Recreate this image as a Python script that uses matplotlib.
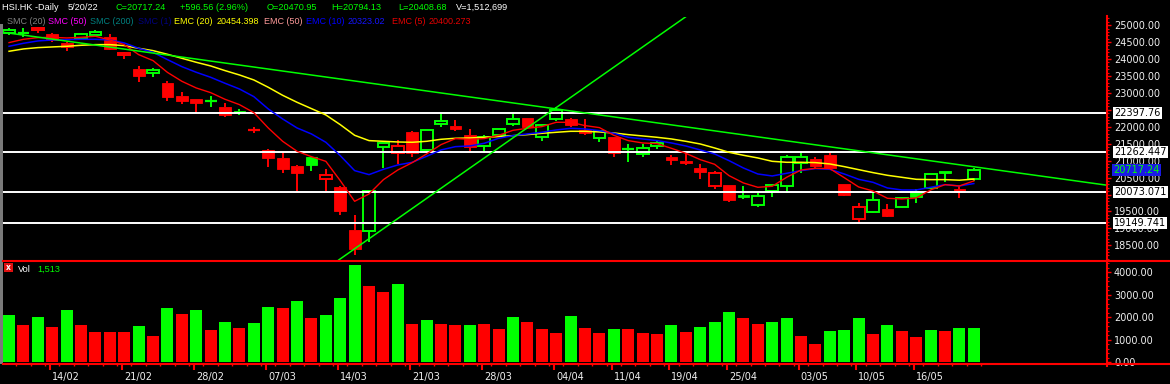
import numpy as np
import matplotlib
matplotlib.use('Agg')
import matplotlib.pyplot as plt
import matplotlib.transforms as mtransforms
from matplotlib.ticker import MultipleLocator, FuncFormatter, FormatStrFormatter
from matplotlib.lines import Line2D
from matplotlib.patches import Rectangle

# HSI daily, 09/02/22 .. 20/05/22 (68 sessions)
opens = [24770, 24785, 24859, 24740, 24475, 24612, 24721, 24642, 24111, 23707,
         23599, 23293, 22910, 22811, 22745, 22575, 22467, 21910, 21315, 21079,
         20843, 21099, 20449, 20222, 18953, 18933, 21413, 21236, 21847, 21325,
         22093, 22024, 21758, 21423, 21768, 22093, 22260, 21689, 22221, 22231,
         21906, 21660, 21689, 21320, 21187, 21443, 21108, 20990, 20784, 20262,
         20272, 19986, 19701, 20114, 20262, 20922, 21049, 21167, 20311, 19287,
         19494, 19563, 19622, 20114, 20183, 20695, 20164, 20470.95]
highs = [24918, 24918, 24937, 24760, 24494, 24760, 24859, 24740, 24199, 23795,
         23736, 23362, 23018, 22831, 22910, 22693, 22516, 21984, 21335, 21246,
         20882, 21118, 20754, 20242, 19396, 20094, 21532, 21610, 21866, 21915,
         22378, 22201, 21935, 21768, 21935, 22378, 22260, 22044, 22575, 22250,
         22221, 21886, 21709, 21492, 21492, 21591, 21177, 21217, 20902, 20705,
         20291, 20252, 20035, 20291, 21167, 21266, 21118, 21266, 20311, 19740,
         20035, 19711, 19888, 20164, 20596, 20705, 20242, 20794.13]
lows = [24721, 24662, 24760, 24494, 24229, 24583, 24642, 24268, 23992, 23333,
        23481, 22772, 22673, 22417, 22595, 22299, 22358, 21827, 20823, 20626,
        20094, 20705, 20094, 19396, 18224, 18589, 20784, 20902, 21099, 21295,
        21984, 21866, 21295, 21217, 21748, 22034, 21965, 21571, 22162, 22004,
        21768, 21561, 21118, 20970, 21118, 21354, 20882, 20882, 20459, 20163,
        19789, 19858, 19642, 19937, 20035, 20646, 20784, 20764, 19957, 19160,
        19455, 19337, 19602, 19760, 20164, 20380, 19908, 20408.68]
closes = [24868, 24780, 24918, 24573, 24347, 24740, 24790, 24307, 24179, 23510,
          23677, 22890, 22772, 22713, 22755, 22339, 22398, 21905, 21069, 20754,
          20626, 20882, 20567, 19524, 18392, 20094, 21512, 21423, 21217, 21896,
          22171, 21945, 21413, 21689, 21935, 22221, 21984, 22044, 22506, 22063,
          21807, 21866, 21217, 21330, 21364, 21512, 21030, 20941, 20675, 20626,
          19848, 19937, 19947, 20272, 21099, 21099, 20853, 20784, 19996, 19622,
          19829, 19376, 19888, 19937, 20596, 20636, 20104, 20717.24]
candle_col = ("ggrrrggrrr" "grrrgrgrrr" "rgrrrggrrg" "grrgggrggr"
              "rgrgggrrrr" "rgggggrrrr" "grggggrg")

volumes = [2100, 1660, 2010, 1580, 2320, 1660, 1350, 1350, 1350, 1610,
           1170, 2410, 2150, 2320, 1430, 1790, 1520, 1750, 2460, 2410,
           2720, 1970, 2100, 2860, 4320, 3390, 3120, 3480, 1700, 1880,
           1700, 1660, 1660, 1700, 1480, 2010, 1790, 1480, 1300, 2060,
           1520, 1300, 1480, 1480, 1300, 1260, 1660, 1350, 1570, 1790,
           2240, 1970, 1700, 1790, 1970, 1170, 810, 1390, 1430, 1970,
           1260, 1660, 1390, 1120, 1430, 1390, 1520, 1513]
vol_col = ("grgrgrrrrg" "rgrgrgrggr" "grgggrrgrg" "rrgrrgrrrg"
           "rrgrrrgrgg" "grrggrrggg" "rgrrgrgg")

ema5 = [24485, 24583, 24632, 24642, 24622, 24642, 24672, 24563, 24425, 24130,
        23953, 23606, 23343, 23146, 23008, 22811, 22654, 22418, 21965, 21571,
        21276, 21118, 20980, 20410, 19799, 20016, 20439, 20725, 20941, 21197,
        21473, 21650, 21630, 21650, 21748, 21896, 21955, 22004, 22132, 22132,
        22034, 21975, 21748, 21591, 21522, 21502, 21364, 21217, 21030, 20892,
        20557, 20341, 20213, 20242, 20508, 20724, 20774, 20764, 20498, 20223,
        20104, 19888, 19868, 19898, 20134, 20291, 20252, 20400.273]
ema10 = [24376, 24465, 24534, 24563, 24573, 24583, 24583, 24563, 24475, 24317,
         24199, 23983, 23776, 23609, 23461, 23284, 23116, 22890, 22526, 22231,
         21965, 21788, 21542, 21148, 20705, 20587, 20744, 20872, 20951, 21128,
         21315, 21413, 21433, 21512, 21660, 21738, 21788, 21837, 21906, 21955,
         21935, 21886, 21807, 21689, 21640, 21591, 21522, 21433, 21315, 21197,
         21000, 20783, 20606, 20547, 20626, 20705, 20764, 20744, 20606, 20449,
         20360, 20193, 20134, 20134, 20213, 20291, 20252, 20323.02]
ema20 = [24229, 24298, 24337, 24357, 24376, 24406, 24425, 24425, 24396, 24317,
         24248, 24140, 24022, 23904, 23796, 23658, 23530, 23382, 23166, 22929,
         22723, 22536, 22349, 22063, 21748, 21591, 21571, 21551, 21542, 21571,
         21630, 21660, 21669, 21689, 21709, 21738, 21768, 21807, 21837, 21866,
         21866, 21847, 21817, 21768, 21729, 21689, 21640, 21571, 21492, 21374,
         21246, 21158, 21079, 20980, 20951, 20951, 20941, 20902, 20823, 20734,
         20646, 20567, 20508, 20449, 20439, 20439, 20423, 20454.398]

# drawn trend lines (two points each: bar index, price)
trend_down = [(0, 24765), (76, 20289)]
trend_up = [(22.99, 18095), (46.875, 25212)]
levels = [22397.76, 21262.447, 20073.071, 19149.741]
level_txt = ['22397.76', '21262.447', '20073.071', '19149.741']
hidden_ticks = [22500, 20000]  # fully covered by level tags

week_idx = [3, 8, 13, 18, 23, 28, 33, 38, 42, 46, 50, 55, 59, 63]
week_lbl = ['14/02', '21/02', '28/02', '07/03', '14/03', '21/03', '28/03',
            '04/04', '11/04', '19/04', '25/04', '03/05', '10/05', '16/05']

GREEN = '#00ff00'
RED = '#ff0000'
TXT = '#f0f0f0'
HFONT = ['Liberation Sans', 'DejaVu Sans']
W, H = 1170, 384


def fx(x):  # pixel -> figure fraction
    return x / W


def fy(y):
    return 1 - y / H


fig = plt.figure(figsize=(W / 100, H / 100), dpi=100, facecolor='black')
ax = fig.add_axes([fx(3), fy(260), (1107 - 3) / W, (260 - 17) / H])
axv = fig.add_axes([fx(3), fy(364), (1107 - 3) / W, (364 - 261) / H])
for a in (ax, axv):
    a.set_facecolor('black')
    for s in a.spines.values():
        s.set_visible(False)
    a.set_xlim(-0.42, 76.25)
ax.set_ylim(18066, 25241)
axv.set_ylim(-76, 4502)

idx = np.arange(len(closes))
o = np.array(opens, float)
c = np.array(closes, float)
hi = np.array(highs, float)
lo = np.array(lows, float)
cols = np.array([GREEN if k == 'g' else RED for k in candle_col])
body_lo = np.minimum(o, c)
body_hi = np.maximum(o, c)
body_h = body_hi - body_lo

# candles
w = 0.82
ax.vlines(idx, lo, body_lo, colors=cols, lw=1.4, zorder=2)
ax.vlines(idx, body_hi, hi, colors=cols, lw=1.4, zorder=2)
doji = body_h < 25
hollow = (c > o) & ~doji
filled = (c <= o) & ~doji
ax.bar(idx[hollow], body_h[hollow], bottom=body_lo[hollow], width=w,
       facecolor='black', edgecolor=cols[hollow], linewidth=1.4, zorder=2)
ax.bar(idx[filled], body_h[filled], bottom=body_lo[filled], width=w,
       color=cols[filled], edgecolor=cols[filled], linewidth=0.6, zorder=2)
ax.hlines(c[doji], idx[doji] - w / 2, idx[doji] + w / 2, colors=cols[doji], lw=1.6, zorder=2)

# levels, averages, trend lines
for lv in levels:
    ax.axhline(lv, color='white', lw=1.4, zorder=3)
ax.plot(idx, ema20, color='#ffff00', lw=1.1, zorder=4)
ax.plot(idx, ema10, color='#0000ff', lw=1.1, zorder=4)
ax.plot(idx, ema5, color=RED, lw=1.0, zorder=4)
ax.axline(trend_down[0], trend_down[1], color=GREEN, lw=1.1, zorder=4)
ax.axline(trend_up[0], trend_up[1], color=GREEN, lw=1.1, zorder=4)

# volume
vcols = [GREEN if k == 'g' else RED for k in vol_col]
axv.bar(idx, volumes, width=0.83, color=vcols)

# right axes
ax.yaxis.tick_right()
ax.set_yticks(np.arange(18500, 25001, 500))
ax.yaxis.set_major_formatter(FuncFormatter(
    lambda v, pos: '' if round(v) in hidden_ticks else f'{v:.2f}'))
ax.yaxis.set_minor_locator(MultipleLocator(100))
ax.tick_params(axis='y', which='major', color=RED, labelcolor=TXT, length=3,
               width=1, labelsize=7, pad=2)
ax.tick_params(axis='y', which='minor', color=RED, length=1.6, width=0.8)
ax.tick_params(axis='x', which='both', bottom=False, labelbottom=False)

axv.yaxis.tick_right()
axv.set_yticks(np.arange(0, 4001, 1000))
axv.yaxis.set_major_formatter(FormatStrFormatter('%.2f'))
axv.yaxis.set_minor_locator(MultipleLocator(200))
axv.tick_params(axis='y', which='major', color=RED, labelcolor=TXT, length=3,
                width=1, labelsize=7, pad=2)
axv.tick_params(axis='y', which='minor', color=RED, length=1.6, width=0.8)

axv.set_xticks(np.array(week_idx) - 0.15)
axv.set_xticklabels(week_lbl, ha='left')
axv.set_xticks(idx + 0.5, minor=True)
axv.tick_params(axis='x', which='major', color=RED, labelcolor=TXT, length=4,
                width=1.5, labelsize=7, pad=1.5)
axv.tick_params(axis='x', which='minor', color=RED, length=1.5, width=1)
shift = mtransforms.ScaledTranslation(0.02, 0, fig.dpi_scale_trans)
for lbl in axv.get_xticklabels():
    lbl.set_transform(lbl.get_transform() + shift)

# level and last price tags on the price scale
tag = mtransforms.blended_transform_factory(fig.transFigure, ax.transData)
for lv, t in zip(levels, level_txt):
    ax.text(fx(1114), lv, t, transform=tag, color='black', fontsize=7, va='center',
            ha='left', clip_on=False, zorder=10,
            bbox=dict(boxstyle='square,pad=0.12', fc='white', ec='none'))
ax.text(fx(1113), closes[-1], '20717.24', transform=tag, color=GREEN, fontsize=7,
        va='center', ha='left', clip_on=False, zorder=10,
        bbox=dict(boxstyle='square,pad=0.12', fc='#1a1ae6', ec='none'))

# panel frame lines
fig.add_artist(Line2D([fx(3), 1], [fy(261), fy(261)], color=RED, lw=1.5))
fig.add_artist(Line2D([fx(3), 1], [fy(364), fy(364)], color=RED, lw=1.5))
fig.add_artist(Line2D([fx(1107), fx(1107)], [fy(16), fy(366)], color=RED, lw=1.5))
fig.add_artist(Rectangle((0, fy(364)), fx(2.5), fy(24) - fy(364),
                         transform=fig.transFigure, fc='#7a7a7a', ec='none'))

# header
line1 = [(2, 'HSI.HK -Daily', 'white'), (68, '5/20/22', 'white'),
         (116, 'C=20717.24', GREEN), (180, '+596.56 (2.96%)', GREEN),
         (267, 'O=20470.95', GREEN), (331, 'H=20794.13', GREEN),
         (398, 'L=20408.68', GREEN), (456, 'V=1,512,699', 'white')]
line2 = [(7, 'SMC (20)', '#808080'), (48, 'SMC (50)', '#ff00ff'),
         (90, 'SMC (200)', '#008080'), (138, 'SMC (1)', '#000080'),
         (174, 'EMC (20)', '#ffff00'), (217, '20454.398', '#ffff00'),
         (264, 'EMC (50)', '#ff9a9a'), (306, 'EMC (10)', '#0000ff'),
         (348, '20323.02', '#1414ff'), (392, 'EMC (5)', '#e60000'),
         (429, '20400.273', '#e60000')]
for x, t, col in line1:
    fig.text(fx(x), fy(7), t, color=col, fontsize=6.6, family=HFONT,
             va='center', ha='left')
for x, t, col in line2:
    fig.text(fx(x), fy(22), t, color=col, fontsize=6.5, family=HFONT,
             va='center', ha='left')

# volume caption
fig.add_artist(Rectangle((fx(4), fy(272)), fx(9), fy(263) - fy(272),
                         transform=fig.transFigure, fc='#e01010', ec='none'))
fig.text(fx(8.5), fy(267.5), 'x', color='white', fontsize=5.5, ha='center',
         va='center', fontweight='bold')
fig.text(fx(18), fy(269), 'Vol', color='white', fontsize=6.6, family=HFONT, va='center')
fig.text(fx(37), fy(269), '1,513', color=GREEN, fontsize=6.6, family=HFONT, va='center')

fig.savefig('out.png', dpi=100, facecolor='black')
